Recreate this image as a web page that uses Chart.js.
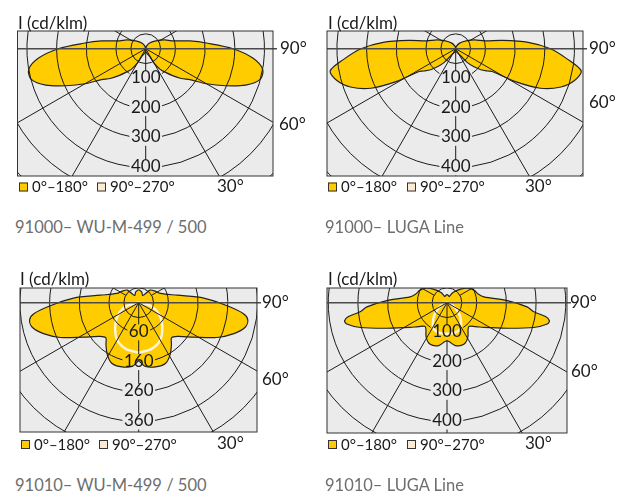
<!DOCTYPE html>
<html><head><meta charset="utf-8">
<script src="https://cdn.jsdelivr.net/npm/chart.js@4/dist/chart.umd.min.js"></script>
<style>
html,body{margin:0;padding:0;background:#fff}
body{width:625px;height:491px;position:relative;overflow:hidden}
canvas{position:absolute}
.cap{position:absolute;font-family:Lato,"DejaVu Sans",sans-serif;font-size:16.5px;line-height:20px;color:#6e6e6e;white-space:nowrap;font-weight:400}
</style></head><body>
<canvas id="p1" width="315" height="215" style="left:0;top:0"></canvas>
<canvas id="p2" width="315" height="215" style="left:310px;top:0"></canvas>
<canvas id="p3" width="315" height="215" style="left:0;top:250px"></canvas>
<canvas id="p4" width="315" height="215" style="left:310px;top:250px"></canvas>
<div class="cap" style="left:15px;top:217px">91000– WU-M-499 / 500</div>
<div class="cap" style="left:325px;top:217px">91000– LUGA Line</div>
<div class="cap" style="left:15px;top:475px">91010– WU-M-499 / 500</div>
<div class="cap" style="left:325px;top:475px">91010– LUGA Line</div>
<script>
// ---------- data (gamma = angle from nadir in degrees, I in cd/klm) ----------
const wu91000Gamma = [0, 10, 20, 27, 30, 35, 40, 45, 50, 55, 60, 65, 70, 75, 80, 85, 90, 95, 100, 107, 115, 130, 145, 160, 180];
const wu91000C0    = [10, 13, 20, 29, 55, 85, 104, 128, 156, 182, 236, 295, 358, 399, 400, 362, 294, 210, 151, 91, 70, 40, 23, 10, 0];

const luga91000Gamma = [0, 10, 20, 30, 35, 40, 45, 50, 55, 58, 61, 65, 70, 75, 80, 85, 90, 95, 100, 105, 115, 125, 145, 165, 180];
const luga91000C0    = [8, 10, 14, 20, 30, 60, 85, 110, 131, 145, 227, 315, 377, 414, 429, 374, 319, 245, 160, 101, 70, 47, 23, 8, 0];

const wu91010Gamma = [0, 6, 16, 24, 31, 38, 43, 49, 58, 66, 72, 77, 81, 84, 88, 94, 101, 113, 125, 138, 150, 165, 180];
const wu91010C0    = [195, 216, 224, 223, 205, 179, 162, 173, 219, 288, 337, 368, 372, 355, 298, 220, 132, 80, 68, 57, 28, 38, 44];
const wu91010C90Gamma = [0, 15, 30, 45, 60, 75, 90];
const wu91010C90      = [168, 162, 145, 112, 80, 42, 0];

const luga91010Gamma = [0, 3, 11, 22, 31, 42, 50, 56, 67, 74, 78, 80, 82, 84, 87, 92, 99, 105, 115, 125, 135, 150, 160, 170, 180];
const luga91010C0    = [128, 131, 147, 151, 136, 109, 125, 149, 220, 303, 345, 350, 335, 294, 270, 203, 126, 110, 100, 85, 65, 40, 22, 25, 28];
const luga91010C90Gamma = [0, 15, 28, 40, 48, 58, 66, 78, 90];
const luga91010C90      = [105, 104, 97, 72, 54, 32, 19, 8, 0];

const ringLabelsStd = ['100', '200', '300', '400'];
const ringLabelsWu91010 = ['60', '160', '260', '360'];
const ringValues = [50, 100, 200, 300, 400, 500, 600];
const radialAngles = [30, 60];
const angleTexts = ['90°', '60°', '30°'];
const legendTexts = ['0°–180°', '90°–270°'];
const unitTitle = 'I (cd/klm)';

// ---------- helpers ----------
const FONT = 'Lato, "DejaVu Sans", sans-serif';
const YELLOW = '#FFCC00';
const CREAM = '#FCEBD0';
const rad = d => d * Math.PI / 180;

// plane A (right side) + plane B (left side) as one closed outline
function planePoints(gamma, vals) {
  const pts = [];
  for (let i = gamma.length - 1; i >= 0; i--) pts.push({x: vals[i] * Math.sin(rad(gamma[i])), y: -vals[i] * Math.cos(rad(gamma[i]))});
  for (let i = 0; i < gamma.length; i++) pts.push({x: -vals[i] * Math.sin(rad(gamma[i])), y: -vals[i] * Math.cos(rad(gamma[i]))});
  return pts;
}

const ldcPlugin = {
  id: 'ldc',
  beforeDatasetsDraw(chart, args, o) {
    const {ctx, chartArea: a} = chart;
    ctx.save();
    ctx.fillStyle = '#ebebeb';
    ctx.fillRect(a.left, a.top, a.right - a.left, a.bottom - a.top);
    ctx.restore();
  },
  afterDatasetsDraw(chart, args, o) {
    const {ctx, chartArea: a, scales: {x, y}} = chart;
    const cx = x.getPixelForValue(0), cy = y.getPixelForValue(0);
    const k = (x.getPixelForValue(100) - cx) / 100;
    const ringFont = '17px ' + FONT;
    ctx.save();
    ctx.beginPath(); ctx.rect(a.left, a.top, a.right - a.left, a.bottom - a.top); ctx.clip();
    ctx.strokeStyle = '#1c1c1c'; ctx.lineWidth = 1;
    ctx.font = ringFont;
    // circles with gaps for labels
    ringValues.forEach((v, idx) => {
      const r = v * k;
      const li = idx - 1;
      ctx.beginPath();
      if (li >= 0 && li < o.ringLabels.length) {
        const w = ctx.measureText(o.ringLabels[li]).width / 2 + 1.5;
        const g = Math.asin(Math.min(1, w / r));
        ctx.arc(cx, cy, r, Math.PI / 2 + g, Math.PI / 2 - g + 2 * Math.PI);
      } else {
        ctx.arc(cx, cy, r, 0, 2 * Math.PI);
      }
      ctx.stroke();
    });
    // radial lines
    const L = 2000;
    ctx.beginPath();
    radialAngles.forEach(d => {
      [1, -1].forEach(s => {
        ctx.moveTo(cx, cy);
        ctx.lineTo(cx + s * L * Math.sin(rad(d)), cy + L * Math.cos(rad(d)));
      });
    });
    [1, -1].forEach(s => {
      const r0 = 50 * k;
      ctx.moveTo(cx + s * r0 * Math.sin(rad(120)), cy + r0 * Math.cos(rad(120)));
      ctx.lineTo(cx + s * L * Math.sin(rad(120)), cy + L * Math.cos(rad(120)));
    });
    ctx.stroke();
    // vertical (nadir) line with gaps at ring labels
    ctx.beginPath();
    let yStart = cy;
    o.ringLabels.forEach((t, i) => {
      const ly = cy + ringValues[i + 1] * k;
      ctx.moveTo(cx, yStart); ctx.lineTo(cx, ly - 8);
      yStart = ly + 8;
    });
    ctx.moveTo(cx, yStart); ctx.lineTo(cx, a.bottom);
    ctx.stroke();
    ctx.restore();

    // 90° line
    ctx.save();
    ctx.strokeStyle = '#4a4a4a'; ctx.lineWidth = 1.5;
    ctx.beginPath(); ctx.moveTo(a.left, cy); ctx.lineTo(a.right + 4, cy); ctx.stroke();
    // frame
    ctx.strokeStyle = '#333'; ctx.lineWidth = 1;
    ctx.strokeRect(a.left, a.top, a.right - a.left, a.bottom - a.top);
    // ring labels
    ctx.fillStyle = '#1a1a1a';
    ctx.font = ringFont;
    ctx.textAlign = 'center'; ctx.textBaseline = 'middle';
    o.ringLabels.forEach((t, i) => ctx.fillText(t, cx, cy + ringValues[i + 1] * k - 1));
    // angle labels
    ctx.font = '17px ' + FONT;
    ctx.textAlign = 'left';
    o.angleLabels.forEach((p, i) => ctx.fillText(angleTexts[i], p[0], p[1]));
    // title
    ctx.textBaseline = 'alphabetic';
    ctx.fillText(unitTitle, o.title[0], o.title[1]);
    // legend
    ctx.font = '15px ' + FONT;
    ctx.textBaseline = 'middle';
    const lg = o.legend;
    [[YELLOW, lg.x[0]], [CREAM, lg.x[1]]].forEach((c, i) => {
      ctx.fillStyle = c[0];
      ctx.fillRect(c[1], lg.y - 4.5, 9, 9);
      ctx.strokeStyle = '#333'; ctx.lineWidth = 1;
      ctx.strokeRect(c[1] + 0.5, lg.y - 4, 8, 8);
      ctx.fillStyle = '#1a1a1a';
      ctx.fillText(legendTexts[i], c[1] + 13, lg.y + 0.5);
    });
    ctx.restore();
  }
};

function makePanel(id, box, center, c0, c90, ringLabels, angleLabels, title, legend) {
  const W = 315, H = 215, k = 0.297;
  const datasets = [{
    data: planePoints(c0[0], c0[1]), order: 2,
    borderColor: '#222', borderWidth: 1.2, backgroundColor: YELLOW,
    fill: 'shape', pointRadius: 0, tension: 0.3
  }];
  if (c90) datasets.push({
    data: planePoints(c90[0], c90[1]), order: 1,
    borderColor: '#FFF3DE', borderWidth: 2.5, fill: false, pointRadius: 0, tension: 0.3
  });
  return new Chart(document.getElementById(id), {
    type: 'line',
    data: {datasets},
    options: {
      responsive: false, animation: false, events: [],
      devicePixelRatio: 1,
      layout: {padding: {left: box[0], top: box[1], right: W - box[2], bottom: H - box[3]}},
      scales: {
        x: {type: 'linear', display: false, min: (box[0] - center[0]) / k, max: (box[2] - center[0]) / k},
        y: {type: 'linear', display: false, min: -(box[3] - center[1]) / k, max: (center[1] - box[1]) / k}
      },
      plugins: {
        legend: {display: false}, tooltip: {enabled: false},
        ldc: {ringLabels, angleLabels, title, legend}
      }
    },
    plugins: [ldcPlugin]
  });
}

makePanel('p1', [17.5, 31, 273, 176], [145.7, 48.7], [wu91000Gamma, wu91000C0], null,
  ringLabelsStd, [[280, 49], [279, 125], [217, 187]], [18, 29], {x: [19, 97], y: 187});
makePanel('p2', [17, 31, 273, 176], [145.7, 48.7], [luga91000Gamma, luga91000C0], null,
  ringLabelsStd, [[279, 49], [279, 103], [215, 187]], [18, 29], {x: [18, 97], y: 187});
makePanel('p3', [20, 38, 257, 182], [138.7, 52.7], [wu91010Gamma, wu91010C0], [wu91010C90Gamma, wu91010C90],
  ringLabelsWu91010, [[262, 53], [262, 130], [217, 194]], [20, 35], {x: [21, 99], y: 194.5});
makePanel('p4', [17, 38, 257, 183], [137, 52.7], [luga91010Gamma, luga91010C0], [luga91010C90Gamma, luga91010C90],
  ringLabelsStd, [[260, 53], [261, 122], [215, 194]], [18, 35], {x: [18, 97], y: 194.5});
</script>
</body></html>
